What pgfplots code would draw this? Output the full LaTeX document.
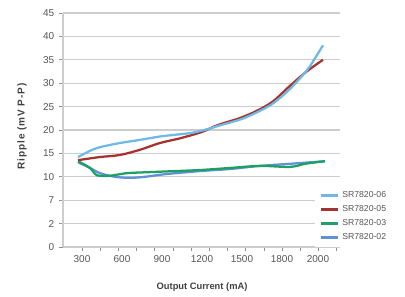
\documentclass[border=0pt]{standalone}
\usepackage{fontspec}
\setmainfont{Liberation Sans}
\usepackage{pgfplots}
\pgfplotsset{compat=1.18}
\definecolor{c06}{RGB}{110,185,230}
\definecolor{c05}{RGB}{165,50,45}
\definecolor{c03}{RGB}{30,160,100}
\definecolor{c02}{RGB}{95,145,215}
\definecolor{gridc}{RGB}{205,205,205}
\definecolor{txt}{RGB}{85,85,85}
\begin{document}
\begin{tikzpicture}
\useasboundingbox (0pt,0pt) rectangle (303.75pt,222.75pt);
\begin{axis}[at={(47.25pt,37.5pt)}, anchor=south west,
  scale only axis, width=207.75pt, height=175.5pt,
  xmin=-0.475, xmax=6.45, ymin=0, ymax=45,
  axis lines=left, axis line style={-, draw=gridc, line width=0.8pt},
  tick align=outside,
  ytick={0,4.5,9,13.5,18,22.5,27,31.5,36,40.5,45},
  yticklabels={0,2,7,10,15,20,25,30,35,40,45},
  xtick={0,1,2,3,4,5,5.9},
  xticklabels={300,600,900,1200,1500,1800,2000},
  minor xtick={0,0.455,0.91,1.365,1.82,2.275,2.73,3.185,3.64,4.095,4.55,5.005,5.46,5.915,6.37},
  major x tick style={draw=none},
  minor x tick style={draw=gridc!70!black, line width=0.6pt},
  major y tick style={draw=gridc!70!black, line width=0.6pt},
  major tick length=3pt, minor tick length=3pt,
  ymajorgrids, grid style={gridc, line width=1pt},
  tick label style={font=\fontsize{7.5}{8}\selectfont, text=txt},
  /pgf/number format/assume math mode=true,
  xlabel={\textbf{Output Current (mA)}},
  ylabel={\textbf{Ripple (mV P-P)}},
  label style={text=black!75},
  xlabel style={font=\fontsize{7}{8}\selectfont, at={(axis description cs:0.502,-0.171)}, anchor=center},
  ylabel style={font=\fontsize{7.5}{8}\selectfont\addfontfeatures{LetterSpace=9}, at={(axis description cs:-0.148,0.517)}, anchor=center},
  legend style={at={(axis description cs:0.91,0.262)}, anchor=north west,
    draw=none, fill=white, font=\fontsize{6.5}{7}\selectfont, text=txt,
    row sep=0.5pt, inner xsep=3pt, inner ysep=2pt, cells={anchor=west}},
  legend image code/.code={\draw[#1, line width=2.2pt] (0pt,0pt) -- (13pt,0pt);},
  reverse legend,
  every axis plot/.append style={line width=1.7pt, smooth, tension=0.5},
]
\addplot[c02] coordinates {(-0.1,16.3) (0.2,15.2) (0.45,14.2) (0.825,13.5) (1.2,13.3) (1.575,13.5) (2.075,14) (2.95,14.6) (3.7,15) (4.45,15.6) (5.2,16) (6.075,16.5)};
\addlegendentry{SR7820-02}
\addplot[c03] coordinates {(-0.1,16.5) (0.2,15.2) (0.375,13.8) (0.7,13.7) (1.125,14.2) (1.7,14.4) (2.325,14.6) (2.95,14.8) (3.7,15.2) (4.45,15.6) (5.2,15.4) (5.575,16) (6.075,16.5)};
\addlegendentry{SR7820-03}
\addplot[c05] coordinates {(-0.1,16.7) (0.45,17.3) (0.95,17.7) (1.45,18.7) (1.95,20) (2.45,20.9) (2.95,22.0) (3.2,22.8) (3.45,23.6) (3.95,24.8) (4.375,26.2) (4.775,28.0) (5.2,31) (5.625,33.8) (6.025,36)};
\addlegendentry{SR7820-05}
\addplot[c06] coordinates {(-0.1,17.3) (0.2,18.5) (0.45,19.2) (0.95,20) (1.45,20.6) (2.0,21.3) (2.7,21.9) (2.95,22.3) (3.2,22.8) (3.45,23.4) (3.95,24.5) (4.375,25.9) (4.775,27.6) (5.2,30.4) (5.625,34) (5.825,36.3) (6.025,38.8)};
\addlegendentry{SR7820-06}
\end{axis}
\end{tikzpicture}
\end{document}
